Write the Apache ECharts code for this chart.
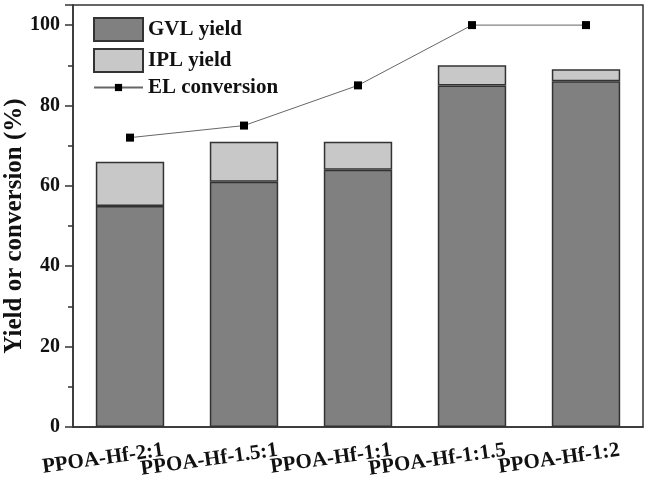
<!DOCTYPE html>
<html>
<head>
<meta charset="utf-8">
<script src="https://cdn.jsdelivr.net/npm/echarts@6/dist/echarts.min.js"></script>
<style>
  html, body { margin: 0; padding: 0; background: #fff; }
  #chart { width: 652px; height: 484px; }
</style>
</head>
<body>
<div id="chart"></div>
<script>
var categories = ['PPOA-Hf-2:1', 'PPOA-Hf-1.5:1', 'PPOA-Hf-1:1', 'PPOA-Hf-1:1.5', 'PPOA-Hf-1:2'];
var gvlYield = [55, 61, 64, 85, 86];
var iplYield = [11, 10, 7, 5, 3];
var elConversion = [72, 75, 85, 100, 100];

var font = 'Liberation Serif';
var legendText = { fontFamily: font, fontWeight: 'bold', fontSize: 21, color: '#111' };
var chart = echarts.init(document.getElementById('chart'));

chart.setOption({
    animation: false,
    grid: {
        left: 73, right: 9, top: 5, bottom: 57,
        outerBoundsMode: 'none',
        containLabel: false,
        show: true, borderColor: '#333', borderWidth: 1.5
    },
    legend: [{
        orient: 'vertical',
        left: 88, top: 12,
        itemWidth: 49, itemHeight: 23, itemGap: 6,
        icon: 'rect',
        textStyle: legendText,
        data: ['GVL yield', 'IPL yield']
    }, {
        left: 88, top: 72,
        itemWidth: 49, itemHeight: 9,
        textStyle: legendText,
        data: ['EL conversion']
    }],
    xAxis: [{
        type: 'category',
        data: categories,
        position: 'bottom',
        axisLine: { lineStyle: { color: '#333', width: 1.5 } },
        axisTick: { alignWithLabel: true, length: 7, lineStyle: { color: '#333', width: 1.5 } },
        axisLabel: {
            rotate: 8,
            align: 'left',
            margin: 28,
            interval: 0,
            formatter: function (v) {
                return '{a|' + v + '}';
            },
            rich: {
                a: { fontFamily: font, fontWeight: 'bold', fontSize: 21, color: '#111', width: 34, align: 'right' }
            }
        }
    }, {
        type: 'category',
        data: categories,
        position: 'bottom',
        axisLine: { show: false },
        axisTick: { alignWithLabel: false, length: 4, lineStyle: { color: '#333', width: 1.5 } },
        axisLabel: { show: false }
    }],
    yAxis: {
        type: 'value',
        min: 0, max: 105, interval: 20,
        name: 'Yield or conversion (%)',
        nameLocation: 'middle',
        nameGap: 46,
        nameMoveOverlap: false,
        nameTextStyle: { fontFamily: font, fontWeight: 'bold', fontSize: 25, color: '#111', padding: [0, 20, 0, 0] },
        axisLine: { show: true, lineStyle: { color: '#333', width: 1.5 } },
        axisTick: { show: true, length: 8, lineStyle: { color: '#333', width: 1.5 } },
        minorTick: { show: true, splitNumber: 2, length: 5, lineStyle: { color: '#333', width: 1.5 } },
        splitLine: { show: false },
        axisLabel: {
            margin: 13,
            showMaxLabel: false,
            fontFamily: font, fontWeight: 'bold', fontSize: 20, color: '#111'
        }
    },
    series: [{
        name: 'GVL yield',
        type: 'bar',
        stack: 'y',
        barWidth: '60%',
        data: gvlYield,
        itemStyle: { color: '#808080', borderColor: '#333', borderWidth: 1.5 }
    }, {
        name: 'IPL yield',
        type: 'bar',
        stack: 'y',
        barWidth: '60%',
        data: iplYield,
        itemStyle: { color: '#c8c8c8', borderColor: '#333', borderWidth: 1.5 }
    }, {
        name: 'EL conversion',
        type: 'line',
        data: elConversion,
        symbol: 'rect',
        symbolSize: 8,
        itemStyle: { color: '#000' },
        lineStyle: { color: '#666', width: 1 }
    }]
});
</script>
</body>
</html>
